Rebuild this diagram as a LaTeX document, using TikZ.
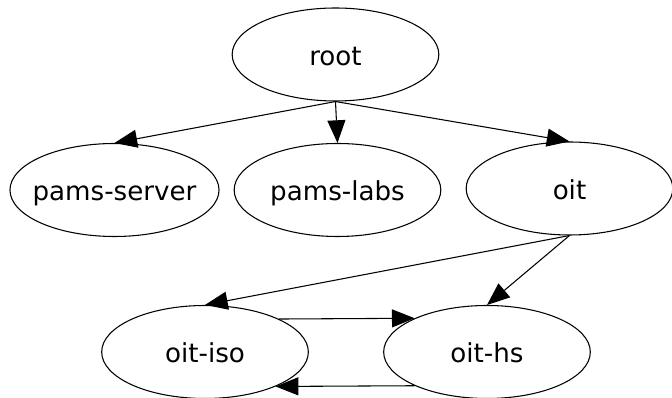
\documentclass[tikz,border=0pt]{standalone}
\usepackage{fontspec}
\setmainfont{DejaVu Sans}
\usetikzlibrary{arrows.meta,shapes.geometric}

\tikzset{every picture/.style={line width=0.75pt}}

\begin{document}
\begin{tikzpicture}[x=0.75pt,y=0.75pt,yscale=-1,
    host/.style={ellipse, draw, line width=0.8pt, minimum width=155pt, minimum height=69.75pt,
                 inner xsep=-6pt, text height=17.5pt, text depth=1.3pt,
                 font=\fontsize{19.6}{23}\selectfont},
    link/.style={-{Triangle[length=17pt,width=13.5pt]}, line width=0.8pt}]
        \useasboundingbox (0,0) rectangle (672,398);

        %Shape: Ellipse [id:root]
        \node [host] (root) at (335.5,54.5) {root};
        %Shape: Ellipse [id:pams-server]
        \node [host] (pserver) at (114.5,190) {pams-server};
        %Shape: Ellipse [id:pams-labs]
        \node [host] (plabs) at (337.5,190) {pams-labs};
        %Shape: Ellipse [id:oit]
        \node [host] (oit) at (569.5,188.5) {oit};
        %Shape: Ellipse [id:oit-iso]
        \node [host] (oitiso) at (205,352) {oit-iso};
        %Shape: Ellipse [id:oit-hs]
        \node [host] (oiths) at (487,352) {oit-hs};

        %Straight Lines
        \draw [link] (root.south) -- (pserver.north) ;
        \draw [link] (root.south) -- (plabs.north) ;
        \draw [link] (root.south) -- (oit.north) ;
        \draw [link] (oit.south) -- (oitiso.north) ;
        \draw [link] (oit.south) -- (oiths.north) ;
        \draw [link] (oitiso.24.4) -- (oiths.155.6) ;
        \draw [link] (oiths.205.7) -- (oitiso.334.3) ;

\end{tikzpicture}
\end{document}
